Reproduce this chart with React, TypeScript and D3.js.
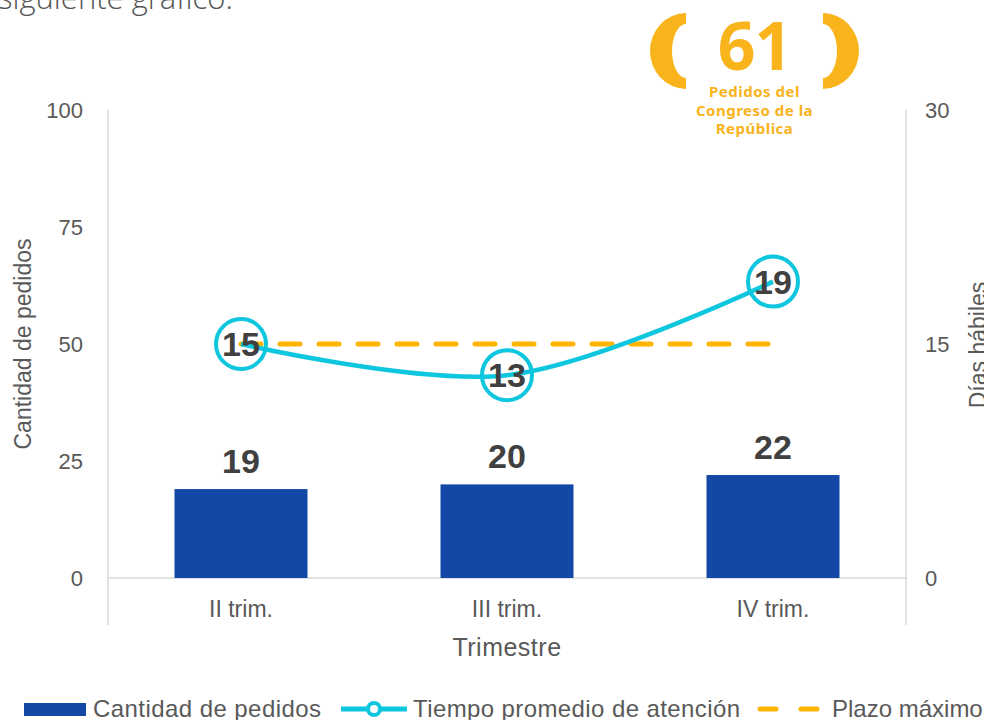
import React from "react";
import * as d3 from "d3";

const categories = ["II trim.", "III trim.", "IV trim."];
const pedidos = [19, 20, 22];
const tiempo = [15, 13, 19];
const plazo = [15, 15, 15];
const leftTicks = [0, 25, 50, 75, 100];
const rightTicks = [0, 15, 30];
const badgeLines = ["Pedidos del", "Congreso de la", "República"];

const W = 984;
const H = 720;
const M = { left: 108, right: 906, top: 110, bottom: 578 };

const BLUE = "#1448A6";
const CYAN = "#0FC6DF";
const ORANGE = "#FFB500";
const BADGE = "#F9B31B";
const TXT = "#595959";
const DARK = "#404040";
const AXIS = "#D9D9D9";
const FONT = "'Liberation Sans', Arial, sans-serif";
const BFONT = "'Noto Sans', 'Open Sans', sans-serif";

export default function App() {
  const x = d3.scaleBand<string>().domain(categories).range([M.left, M.right]).paddingInner(0.5).paddingOuter(0.25);
  const yL = d3.scaleLinear().domain([0, 100]).range([M.bottom, M.top]);
  const yR = d3.scaleLinear().domain([0, 30]).range([M.bottom, M.top]);
  const cx = (c: string) => (x(c) as number) + x.bandwidth() / 2;

  const linePath = d3
    .line<number>()
    .x((_, i) => cx(categories[i]))
    .y((d) => yR(d))
    .curve(d3.curveCatmullRom.alpha(0.5))(tiempo) as string;

  const plazoPath = d3
    .line<number>()
    .x((_, i) => cx(categories[i]))
    .y((d) => yR(d))(plazo) as string;

  const bx = 754.5;
  const lx = 686;
  const rx = 2 * bx - lx;
  const leftBracket = `M ${lx} 13 A 36 38 0 0 0 ${lx} 89 L ${lx} 78 A 14 27 0 0 1 ${lx} 24 Z`;
  const rightBracket = `M ${rx} 13 A 36 38 0 0 1 ${rx} 89 L ${rx} 78 A 14 27 0 0 0 ${rx} 24 Z`;

  return (
    <svg width={W} height={H} style={{ position: "absolute", left: 0, top: 0, background: "#fff" }} fontFamily={FONT}>
      <text x={-2} y={9} fontSize={31} fill="#555" fontFamily="'Open Sans', 'Noto Sans', sans-serif" fontWeight={300}>
        siguiente gráfico.
      </text>

      {/* badge */}
      <path d={leftBracket} fill={BADGE} />
      <path d={rightBracket} fill={BADGE} />
      <text x={bx} y={70} textAnchor="middle" fontSize={66} fontWeight={700} fill={BADGE} fontFamily={BFONT} letterSpacing={-1}>
        61
      </text>
      {badgeLines.map((t, i) => (
        <text key={t} x={bx} y={97 + i * 18.5} textAnchor="middle" fontSize={15} fontWeight={700} fill={BADGE} fontFamily={BFONT} letterSpacing={0.5}>
          {t}
        </text>
      ))}

      {/* axes */}
      <line x1={M.left} x2={M.left} y1={M.top} y2={625} stroke={AXIS} strokeWidth={1.5} />
      <line x1={M.right} x2={M.right} y1={M.top} y2={625} stroke={AXIS} strokeWidth={1.5} />
      <line x1={M.left} x2={M.right} y1={M.bottom} y2={M.bottom} stroke={AXIS} strokeWidth={1.5} />

      {leftTicks.map((t) => (
        <text key={t} x={83} y={yL(t) + 8} textAnchor="end" fontSize={22} fill={TXT}>
          {t}
        </text>
      ))}
      {rightTicks.map((t) => (
        <text key={t} x={925} y={yR(t) + 8} textAnchor="start" fontSize={22} fill={TXT}>
          {t}
        </text>
      ))}
      <text transform={`translate(31,344) rotate(-90)`} textAnchor="middle" fontSize={23} fill={TXT}>
        Cantidad de pedidos
      </text>
      <text transform={`translate(986,345) rotate(-90)`} textAnchor="middle" fontSize={23} fill={TXT}>
        Días hábiles
      </text>

      {categories.map((c) => (
        <text key={c} x={cx(c)} y={617} textAnchor="middle" fontSize={23} fill={TXT}>
          {c}
        </text>
      ))}
      <text x={(M.left + M.right) / 2} y={656} textAnchor="middle" fontSize={25} fill={TXT} letterSpacing={0.5}>
        Trimestre
      </text>

      {/* bars */}
      {categories.map((c, i) => (
        <g key={c}>
          <rect x={x(c)} y={yL(pedidos[i])} width={x.bandwidth()} height={yL(0) - yL(pedidos[i])} fill={BLUE} />
          <text x={cx(c)} y={yL(pedidos[i]) - 16} textAnchor="middle" fontSize={34} fontWeight={700} fill={DARK}>
            {pedidos[i]}
          </text>
        </g>
      ))}

      {/* plazo */}
      <path d={plazoPath} fill="none" stroke={ORANGE} strokeWidth={5} strokeDasharray="20 19" strokeLinecap="round" />

      {/* tiempo */}
      <path d={linePath} fill="none" stroke={CYAN} strokeWidth={4.5} />
      {categories.map((c, i) => (
        <g key={c}>
          <circle cx={cx(c)} cy={yR(tiempo[i])} r={25} fill="#fff" fillOpacity={0} stroke={CYAN} strokeWidth={4} />
          <text x={cx(c)} y={yR(tiempo[i]) + 12} textAnchor="middle" fontSize={34} fontWeight={700} fill={DARK}>
            {tiempo[i]}
          </text>
        </g>
      ))}

      {/* legend */}
      <rect x={24} y={703} width={62} height={13} fill={BLUE} />
      <text x={93} y={717} fontSize={24} fill={TXT} textLength={228} lengthAdjust="spacing">Cantidad de pedidos</text>
      <line x1={341} x2={407} y1={709} y2={709} stroke={CYAN} strokeWidth={5} />
      <circle cx={374} cy={709} r={6} fill="#fff" stroke={CYAN} strokeWidth={4} />
      <text x={413} y={717} fontSize={24} fill={TXT} textLength={327} lengthAdjust="spacing">Tiempo promedio de atención</text>
      <line x1={760} x2={819} y1={709} y2={709} stroke={ORANGE} strokeWidth={5} strokeDasharray="16 25" strokeLinecap="round" />
      <text x={832} y={717} fontSize={24} fill={TXT}>Plazo máximo</text>
    </svg>
  );
}
